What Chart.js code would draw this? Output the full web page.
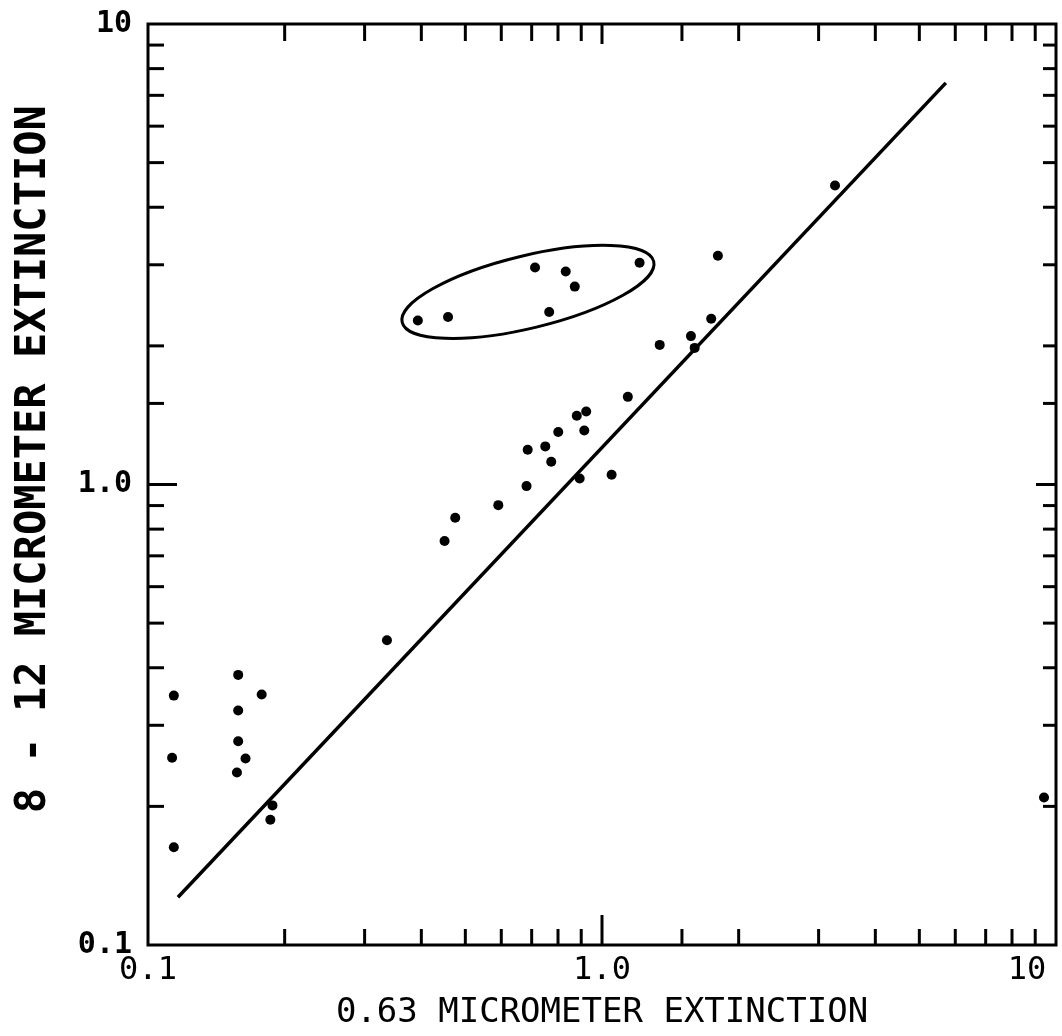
<!DOCTYPE html>
<html>
<head>
<meta charset="utf-8">
<script src="https://cdn.jsdelivr.net/npm/chart.js@4.4.1/dist/chart.umd.min.js"></script>
<style>
    body { margin: 0; background: #fff; }
    #wrap { width: 1062px; height: 1036px; position: relative; }
</style>
</head>
<body>
<div id="wrap"><canvas id="extinction"></canvas></div>
<script>
// 0.63 um extinction vs 8-12 um extinction
xMain = [0.114, 0.113, 0.114, 0.158, 0.178, 0.158, 0.158, 0.164, 0.157, 0.188, 0.186,
    0.336, 0.450, 0.475, 0.591, 0.682, 0.686, 0.750, 0.773, 0.801, 0.880, 0.923,
    0.914, 0.893, 1.05, 1.14, 1.34, 1.57, 1.60, 1.74, 1.80, 3.26, 9.41]
yMain = [0.348, 0.255, 0.163, 0.386, 0.350, 0.323, 0.277, 0.254, 0.237, 0.201, 0.187,
    0.459, 0.754, 0.847, 0.902, 0.992, 1.19, 1.21, 1.12, 1.30, 1.41, 1.44,
    1.31, 1.03, 1.05, 1.55, 2.01, 2.10, 1.98, 2.29, 3.14, 4.46, 0.209]

// circled group
xCircled = [0.393, 0.458, 0.712, 0.832, 0.871, 0.765, 1.21]
yCircled = [2.27, 2.31, 2.96, 2.90, 2.69, 2.37, 3.03]

// fitted line end points
fitX = [0.1164, 5.72]
fitY = [0.127, 7.45]

// ends of the long axis of the ring around the circled group
ringX = [0.363, 1.30]
ringY = [2.25, 3.05]

tickLabels = { 0.1: '0.1', 1: '1.0', 10: '10' }

function pairs(xs, ys) {
    return xs.map((v, i) => ({ x: v, y: ys[i] }))
}

function isDecade(v) {
    const l = Math.log10(v)
    return Math.abs(l - Math.round(l)) < 1e-6
}

function decadeLabel(v) {
    if (!isDecade(v)) return ''
    return tickLabels[Math.pow(10, Math.round(Math.log10(v)))]
}

const frame = {
    id: 'frame',
    afterDatasetsDraw(chart) {
        const ctx = chart.ctx
        const a = chart.chartArea
        const x = chart.scales.x
        const y = chart.scales.y
        ctx.save()
        ctx.strokeStyle = '#000'
        ctx.lineWidth = 3
        ctx.lineCap = 'butt'
        ctx.strokeRect(a.left, a.top, a.right - a.left, a.bottom - a.top)

        function seg(x1, y1, x2, y2) {
            ctx.beginPath()
            ctx.moveTo(x1, y1)
            ctx.lineTo(x2, y2)
            ctx.stroke()
        }

        for (t of x.ticks) {
            const px = x.getPixelForValue(t.value)
            if (px < a.left + 2 || px > a.right - 2) continue
            const big = isDecade(t.value)
            seg(px, a.bottom, px, a.bottom - (big ? 30 : 16))
            seg(px, a.top, px, a.top + (big ? 20 : 17))
        }
        for (t of y.ticks) {
            const py = y.getPixelForValue(t.value)
            if (py < a.top + 2 || py > a.bottom - 2) continue
            const big = isDecade(t.value)
            seg(a.left, py, a.left + (big ? 29 : 16), py)
            seg(a.right, py, a.right - (big ? 20 : 13), py)
        }

        // ring
        const x1 = x.getPixelForValue(ringX[0])
        const y1 = y.getPixelForValue(ringY[0])
        const x2 = x.getPixelForValue(ringX[1])
        const y2 = y.getPixelForValue(ringY[1])
        const half = Math.hypot(x2 - x1, y2 - y1) / 2
        ctx.beginPath()
        ctx.ellipse((x1 + x2) / 2, (y1 + y2) / 2, half, half * 0.28,
            Math.atan2(y2 - y1, x2 - x1), 0, Math.PI * 2)
        ctx.stroke()
        ctx.restore()
    },
}

const font = "'DejaVu Sans Mono', 'Liberation Mono', monospace"

new Chart('extinction', {
    type: 'scatter',
    data: {
        datasets: [
            {
                data: pairs(xMain, yMain),
                pointRadius: 5,
                backgroundColor: '#000',
                borderWidth: 0,
            },
            {
                data: pairs(xCircled, yCircled),
                pointRadius: 5,
                backgroundColor: '#000',
                borderWidth: 0,
            },
            {
                type: 'line',
                data: pairs(fitX, fitY),
                borderColor: '#000',
                borderWidth: 3.5,
                pointRadius: 0,
                fill: false,
            },
        ],
    },
    options: {
        responsive: true,
        maintainAspectRatio: false,
        animation: false,
        events: [],
        layout: {
            padding: { top: 24, right: 6, left: 0, bottom: 0 },
        },
        plugins: {
            legend: { display: false },
            tooltip: { enabled: false },
        },
        scales: {
            x: {
                type: 'logarithmic',
                min: 0.1,
                max: 10,
                grid: { display: false, drawTicks: false },
                border: { display: false },
                ticks: {
                    autoSkip: false,
                    maxRotation: 0,
                    padding: 6,
                    color: '#000',
                    font: { family: font, size: 32 },
                    callback: (v) => {
                        const s = decadeLabel(v)
                        // push the last label inside the frame like the original
                        return s === '10' ? s + '   ' : s
                    },
                },
                title: {
                    display: true,
                    text: '0.63 MICROMETER EXTINCTION',
                    color: '#000',
                    font: { family: font, size: 34 },
                    padding: { top: 0, bottom: 2 },
                },
                afterFit: (s) => {
                    s.height = 91
                    s.paddingLeft = 0
                    s.paddingRight = 0
                },
            },
            y: {
                type: 'logarithmic',
                min: 0.1,
                max: 10,
                grid: { display: false, drawTicks: false },
                border: { display: false },
                ticks: {
                    autoSkip: false,
                    padding: 16,
                    color: '#000',
                    font: { family: font, size: 30, weight: 'bold' },
                    callback: (v) => decadeLabel(v),
                },
                title: {
                    display: true,
                    // leading spaces lift the title a little, as in the original
                    text: '  8 - 12 MICROMETER EXTINCTION',
                    color: '#000',
                    font: { family: font, size: 42, weight: 'bold' },
                    padding: { top: 9, bottom: 0 },
                },
                afterFit: (s) => {
                    s.width = 148
                    s.paddingTop = 0
                    s.paddingBottom = 0
                },
            },
        },
    },
    plugins: [frame],
})
</script>
</body>
</html>
